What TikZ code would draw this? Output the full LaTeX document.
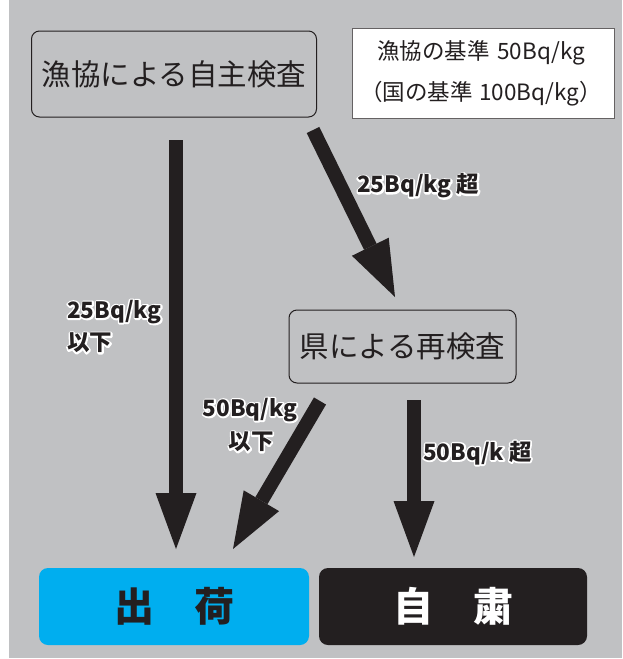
\documentclass[tikz,border=0pt]{standalone}
\usepackage{fontspec}
\setmainfont{Noto Sans CJK JP}
\usetikzlibrary{arrows.meta}
\definecolor{bggray}{HTML}{C0C1C3}
\definecolor{ink}{HTML}{231F20}
\definecolor{shipcyan}{HTML}{00AEEF}
\newcommand\halotext[1]{\special{pdf:literal direct 1 Tr 3.2 w 1 j 1 J 1 1 1 RG}#1\special{pdf:literal direct 0 Tr}}
\tikzset{
  procbox/.style={draw=ink, line width=1pt, rounded corners=8pt, fill=bggray, text=ink,
    font=\fontsize{29.5}{32}\selectfont, inner sep=0pt},
  notebox/.style={draw=ink!70, line width=0.8pt, fill=white, inner sep=0pt},
  notetext/.style={text=ink, inner sep=0pt, font=\fontsize{22.5}{24}\selectfont},
  resultbox/.style={rounded corners=9pt, inner sep=0pt,
    font=\fontsize{40}{44}\selectfont\bfseries},
  bigarrow/.style={draw=ink, line width=14pt,
    -{Triangle[width=41pt,length=56pt,line width=0pt]}},
  lbl/.style={text=ink, inner sep=0pt, font=\fontsize{22.5}{30}\selectfont\bfseries},
  lblhalo/.style={lbl, text=white}
}
\begin{document}
\begin{tikzpicture}[x=1pt,y=-1pt]
\useasboundingbox (0,0) rectangle (622,659);
\fill[bggray] (9,0) rectangle (622,658);
% boxes
\node[procbox, minimum width=285pt, minimum height=86pt] (self) at (174,74) {漁協による自主検査};
\node[notebox, minimum width=262pt, minimum height=90pt] (note) at (483,73) {};
\node[notetext] (note1) at (481,53) {漁協の基準\hspace{0.35em}50Bq/kg};
\node[notetext] (note2) at (481,94) {（国の基準\hspace{0.3em}100Bq/kg）};
\node[procbox, minimum width=227pt, minimum height=73pt] (pref) at (402.5,346.5) {県による再検査};
\node[resultbox, fill=shipcyan, text=ink, minimum width=270pt, minimum height=77pt] (ship) at (174,606.5) {出　荷};
\node[resultbox, fill=ink, text=white, minimum width=268pt, minimum height=77pt] (stop) at (453,606.5) {自　粛};
% arrow end points
\coordinate (a1s) at (176,140);
\coordinate (a1e) at (176,549);
\coordinate (a2s) at (313,130);
\coordinate (a2e) at (395,297);
\coordinate (a3s) at (320,401);
\coordinate (a3e) at (233,549);
\coordinate (a4s) at (414,400);
\coordinate (a4e) at (414,557);
\draw[bigarrow] (a1s) -- (a1e);
\draw[bigarrow] (a2s) -- (a2e);
\draw[bigarrow] (a3s) -- (a3e);
\draw[bigarrow] (a4s) -- (a4e);
% label halos
\node[lblhalo, anchor=west] (h1a) at (67,312) {\halotext{25Bq/kg}};
\node[lblhalo, anchor=west] (h1b) at (67,343) {\halotext{以下}};
\node[lblhalo, anchor=west] (h2) at (357,186) {\halotext{25Bq/kg 超}};
\node[lblhalo] (h3a) at (250,410) {\halotext{50Bq/kg}};
\node[lblhalo] (h3b) at (251,442) {\halotext{以下}};
\node[lblhalo, anchor=west] (h4) at (423,453) {\halotext{50Bq/k 超}};
% labels
\node[lbl, anchor=west] (l1a) at (67,312) {25Bq/kg};
\node[lbl, anchor=west] (l1b) at (67,343) {以下};
\node[lbl, anchor=west] (l2) at (357,186) {25Bq/kg 超};
\node[lbl] (l3a) at (250,410) {50Bq/kg};
\node[lbl] (l3b) at (251,442) {以下};
\node[lbl, anchor=west] (l4) at (423,453) {50Bq/k 超};
\end{tikzpicture}
\end{document}
